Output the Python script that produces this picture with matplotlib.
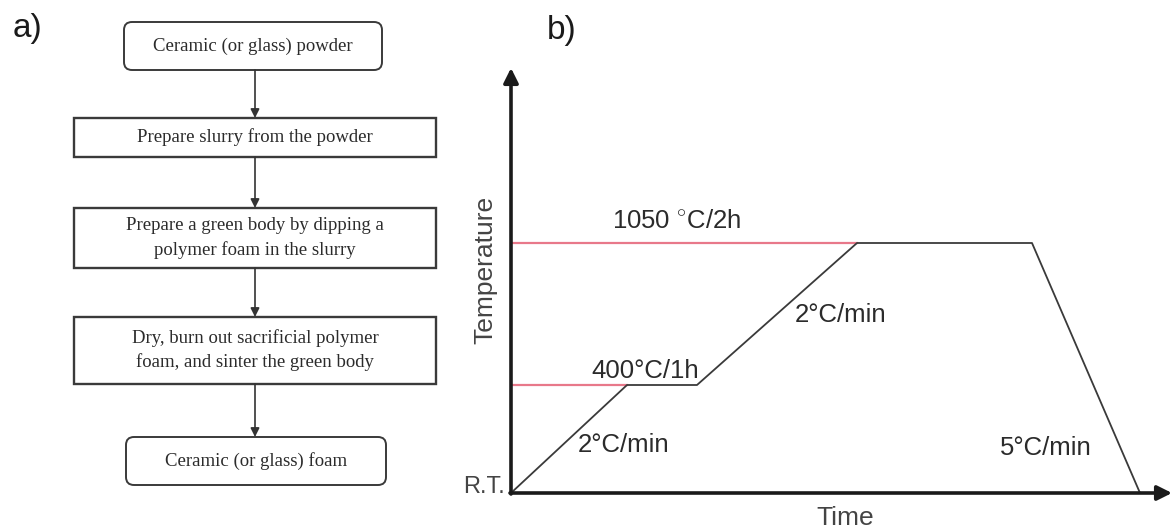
"""Two-panel figure: (a) foam replication flowchart, (b) schematic sintering profile."""
import matplotlib

matplotlib.use("Agg")
import matplotlib.pyplot as plt
from matplotlib.patches import FancyBboxPatch, Rectangle

plt.rcParams["mathtext.fontset"] = "custom"
plt.rcParams["mathtext.rm"] = "Liberation Sans"

SERIF = "Liberation Serif"
SANS = "Liberation Sans"
INK = "#2b2b2b"
LINE = "#3a3a3a"
PINK = "#e8788a"

# ---- panel a: flowchart steps (top to bottom)
STEPS = [
    "Ceramic (or glass) powder",
    "Prepare slurry from the powder",
    "Prepare a green body by dipping a\npolymer foam in the slurry",
    "Dry, burn out sacrificial polymer\nfoam, and sinter the green body",
    "Ceramic (or glass) foam",
]
ROUNDED = [True, False, False, False, True]
# box extents in pixels: (left, right, top, bottom)
BOXES = [
    (124, 382, 22, 70),
    (74, 436, 118, 157),
    (74, 436, 208, 268),
    (74, 436, 317, 384),
    (126, 386, 437, 485),
]

# ---- panel b: schematic firing profile (arbitrary units)
TIME = [0, 1.16, 1.86, 3.46, 5.21, 6.29]
TEMP = [0, 1.08, 1.08, 2.50, 2.50, 0]
HOLD_LEVELS = [1.08, 2.50]
HOLD_ENDS = [1.16, 3.46]


def draw_flowchart(ax):
    for text, rounded, (l, r, t, b) in zip(STEPS, ROUNDED, BOXES):
        if rounded:
            patch = FancyBboxPatch((l, t), r - l, b - t,
                                   boxstyle="round,pad=0,rounding_size=8",
                                   fc="white", ec=LINE, lw=1.4)
        else:
            patch = Rectangle((l, t), r - l, b - t, fc="white", ec=LINE, lw=1.7)
        ax.add_patch(patch)
        ax.text((l + r) / 2, (t + b) / 2, text, ha="center", va="center",
                family=SERIF, fontsize=13.5, color=INK, linespacing=1.45)
    for (l, r, t, b), (l2, r2, t2, b2) in zip(BOXES[:-1], BOXES[1:]):
        x = 255
        ax.annotate("", xy=(x, t2), xytext=(x, b),
                    arrowprops=dict(arrowstyle="-|>", color="#333333", lw=1.2,
                                    mutation_scale=13, shrinkA=0, shrinkB=0))


def draw_profile(ax):
    ax.set_xlim(0, 6.61)
    ax.set_ylim(0, 4.25)
    ax.axis("off")
    for lvl, end in zip(HOLD_LEVELS, HOLD_ENDS):
        ax.plot([0, end], [lvl, lvl], color=PINK, lw=1.6, zorder=2)
    ax.plot(TIME, TEMP, color=LINE, lw=1.3, zorder=3)

    arrow = dict(arrowstyle="-|>", color="#1a1a1a", lw=2.6, mutation_scale=22,
                 shrinkA=0, shrinkB=0)
    ax.annotate("", xy=(6.61, 0), xytext=(-0.01, 0), arrowprops=arrow, annotation_clip=False)
    ax.annotate("", xy=(0, 4.25), xytext=(0, -0.01), arrowprops=arrow, annotation_clip=False)

    kw = dict(family=SANS, color=INK, fontsize=18.5)
    ax.text(1.66, 2.60, r"1050 $^{\circ}$C/2h", ha="center", va="bottom", **kw)
    ax.text(1.34, 1.10, "400°C/1h", ha="center", va="bottom", **kw)
    ax.text(0.67, 0.48, "2°C/min", ha="left", va="center", **kw)
    ax.text(2.84, 1.78, "2°C/min", ha="left", va="center", **kw)
    ax.text(5.81, 0.45, "5°C/min", ha="right", va="center", **kw)
    ax.text(-0.06, 0.06, "R.T.", ha="right", va="center", family=SANS,
            color="#444444", fontsize=17, clip_on=False)
    ax.text(3.34, -0.25, "Time", ha="center", va="center", family=SANS,
            color="#444444", fontsize=19, clip_on=False)
    ax.text(-0.26, 2.23, "Temperature", ha="center", va="center", rotation=90,
            family=SANS, color="#444444", fontsize=19, clip_on=False)


fig = plt.figure(figsize=(11.74, 5.31), dpi=100)
ax_a = fig.add_axes([0, 0, 1, 1])
ax_a.set_xlim(0, 1174)
ax_a.set_ylim(531, 0)
ax_a.axis("off")
draw_flowchart(ax_a)
ax_a.text(28, 29, "a)", ha="center", va="center", family=SANS, fontsize=24, color="#1a1a1a")
ax_a.text(562, 30, "b)", ha="center", va="center", family=SANS, fontsize=24, color="#1a1a1a")

ax_b = fig.add_axes([511 / 1174, 38 / 531, 661 / 1174, 425 / 531])
draw_profile(ax_b)

fig.savefig("out.png", dpi=100, facecolor="white")
